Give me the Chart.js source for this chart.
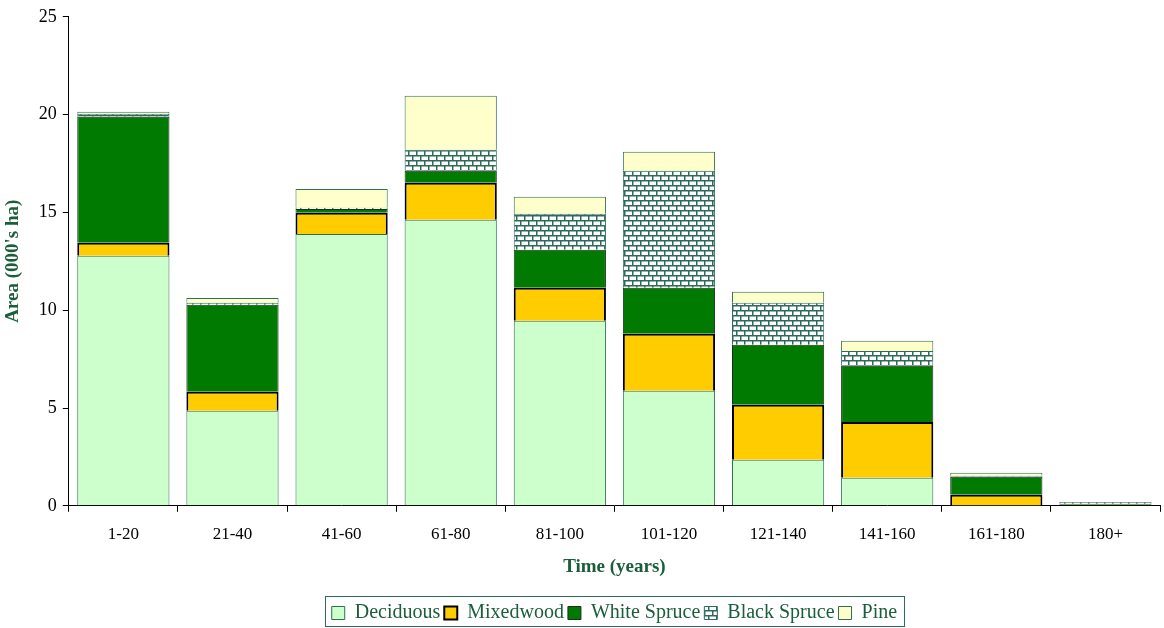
<!DOCTYPE html>
<html>
<head>
<meta charset="utf-8">
<script src="https://cdn.jsdelivr.net/npm/chart.js@4"></script>
<style>
  html, body { margin: 0; padding: 0; background: #fff; }
  #wrap { width: 1164px; height: 628px; }
</style>
</head>
<body>
<div id="wrap"><canvas id="barChart" width="1164" height="628"></canvas></div>
<script>
// age classes and area (000's ha) by cover type
var ageClasses = ["1-20", "21-40", "41-60", "61-80", "81-100", "101-120", "121-140", "141-160", "161-180", "180+"];
var deciduous   = [12.78, 4.86, 13.9, 14.62, 9.46, 5.88, 2.35, 1.43, 0.02, 0];
var mixedwood   = [0.67, 0.97, 1.08, 1.89, 1.69, 2.91, 2.81, 2.86, 0.54, 0.05];
var whiteSpruce = [6.44, 4.45, 0.2, 0.62, 1.94, 2.36, 3.07, 2.87, 0.92, 0.06];
var blackSpruce = [0.15, 0.1, 0.06, 1.07, 1.84, 5.98, 2.15, 0.76, 0.06, 0.09];
var pine        = [0.1, 0.25, 0.96, 2.76, 0.87, 0.97, 0.56, 0.52, 0.15, 0];
var yTicks = [0, 5, 10, 15, 20, 25];

var titleGreen = "#1b5e3b";

// brick pattern for black spruce
function brickPattern() {
    var c = document.createElement("canvas");
    c.width = 16; c.height = 10;
    var g = c.getContext("2d");
    g.fillStyle = "#ffffff";
    g.fillRect(0, 0, 16, 10);
    g.fillStyle = "#2e6b5c";
    g.fillRect(0, 0, 16, 1.5);
    g.fillRect(0, 5, 16, 1.5);
    g.fillRect(0, 0, 1.5, 5);
    g.fillRect(8, 0, 1.5, 5);
    g.fillRect(4, 5, 1.5, 5);
    g.fillRect(12, 5, 1.5, 5);
    return g.createPattern(c, "repeat");
}

// center legend under the plot area and draw a frame round it
var legendFrame = {
    id: "legendFrame",
    afterLayout: function(chart) {
        var lg = chart.legend, ca = chart.chartArea;
        var dx = (ca.left + ca.right) / 2 - (lg.left + lg.right) / 2;
        lg.left += dx;
        lg.right += dx;
        (lg.legendHitBoxes || []).forEach(function(h) { h.left += dx; });
    },
    afterDraw: function(chart) {
        var boxes = chart.legend.legendHitBoxes;
        if (!boxes || !boxes.length) return;
        var l = Infinity, r = -Infinity, t = Infinity, b = -Infinity;
        boxes.forEach(function(h) {
            l = Math.min(l, h.left); r = Math.max(r, h.left + h.width);
            t = Math.min(t, h.top); b = Math.max(b, h.top + h.height);
        });
        var mid = (t + b) / 2;
        var ctx = chart.ctx;
        ctx.save();
        ctx.strokeStyle = "#2e6b5c";
        ctx.lineWidth = 1;
        ctx.strokeRect(Math.round(l - 7) + 0.5, Math.round(mid - 17) + 0.5, Math.round(r - l + 14), 30);
        ctx.restore();
    }
};

var ctx = document.getElementById("barChart").getContext("2d");
var myChart = new Chart(ctx, {
    type: "bar",
    data: {
        labels: ageClasses,
        datasets: [
            { label: "Deciduous", data: deciduous, backgroundColor: "#ccffcc", borderColor: "#2e7050", borderWidth: 1 },
            { label: "Mixedwood", data: mixedwood, backgroundColor: "#ffcc00", borderColor: "#000000", borderWidth: 2 },
            { label: "White Spruce", data: whiteSpruce, backgroundColor: "#007a00", borderColor: "#1a2e1a", borderWidth: 1 },
            { label: "Black Spruce", data: blackSpruce, backgroundColor: brickPattern(), borderColor: "#2e6b5c", borderWidth: 1 },
            { label: "Pine", data: pine, backgroundColor: "#ffffcc", borderColor: "#2e7050", borderWidth: 1 }
        ]
    },
    options: {
        responsive: false,
        animation: false,
        layout: { padding: { left: 2, right: 4, top: 8, bottom: -5 } },
        datasets: { bar: { barPercentage: 0.845, categoryPercentage: 1.0 } },
        scales: {
            x: {
                stacked: true,
                grid: { display: true, drawOnChartArea: false, drawTicks: true, tickLength: 6, color: "#000", offset: true },
                border: { display: true, color: "#000" },
                ticks: { color: "#000", font: { family: "Liberation Serif", size: 17 }, padding: 13 },
                title: { display: true, text: "Time (years)", color: titleGreen, font: { family: "Liberation Serif", size: 19, weight: "bold" }, padding: { top: -3, bottom: 21 } }
            },
            y: {
                stacked: true,
                min: 0, max: 25,
                afterBuildTicks: function(scale) { scale.ticks = yTicks.map(function(v) { return { value: v }; }); },
                grid: { display: true, drawOnChartArea: false, drawTicks: true, tickLength: 6, color: "#000" },
                border: { display: true, color: "#000" },
                ticks: { color: "#000", font: { family: "Liberation Serif", size: 18 }, padding: 6 },
                title: { display: true, text: "Area (000's ha)", color: titleGreen, font: { family: "Liberation Serif", size: 19, weight: "bold" }, padding: { top: 0, bottom: 8 } }
            }
        },
        plugins: {
            legend: {
                position: "bottom",
                labels: {
                    color: titleGreen,
                    font: { family: "Liberation Serif", size: 20 },
                    boxWidth: 13, boxHeight: 13, padding: 4
                }
            },
            tooltip: { enabled: false }
        }
    },
    plugins: [legendFrame]
});
</script>
</body>
</html>
